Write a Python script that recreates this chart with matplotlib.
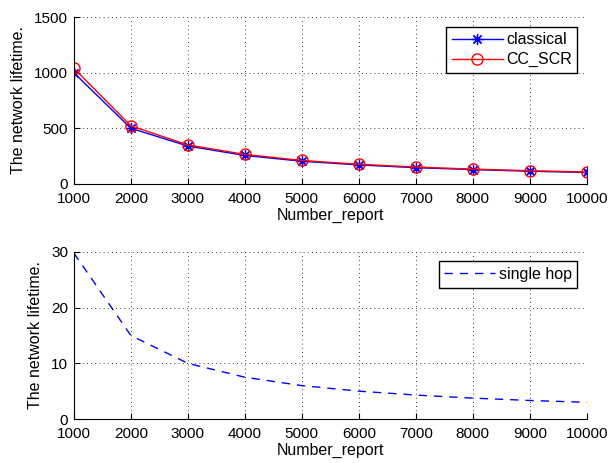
import matplotlib.pyplot as plt
import numpy as np

plt.rcParams['font.family'] = ['Liberation Sans', 'DejaVu Sans']
plt.rcParams['font.size'] = 11

# data
number_report = [1000, 2000, 3000, 4000, 5000, 6000, 7000, 8000, 9000, 10000]
classical = [1000, 500, 340, 255, 203, 170, 145, 128, 113, 102]
cc_scr = [1040, 522, 350, 265, 210, 176, 151, 132, 118, 106]
single_hop = [29.8, 15.0, 10.0, 7.5, 6.0, 5.0, 4.3, 3.75, 3.33, 3.0]

x_ticks = [1000, 2000, 3000, 4000, 5000, 6000, 7000, 8000, 9000, 10000]

fig = plt.figure(figsize=(6.1, 4.63), dpi=100)
ax1 = fig.add_axes([0.121, 0.603, 0.841, 0.360])
ax2 = fig.add_axes([0.121, 0.095, 0.841, 0.361])

ax1.plot(number_report, classical, color='blue', marker=(8, 2, 0), markersize=8,
         markeredgewidth=0.9, linewidth=1, label='classical')
ax1.plot(number_report, cc_scr, color='red', marker='o', markersize=8,
         markerfacecolor='none', linewidth=1, label='CC_SCR')
ax1.set_ylim(0, 1500)
ax1.set_yticks([0, 500, 1000, 1500])

ax2.plot(number_report, single_hop, color='blue', linestyle=(0, (6, 5)),
         linewidth=1, label='single hop')
ax2.set_ylim(0, 30)
ax2.set_yticks([0, 10, 20, 30])

for ax in (ax1, ax2):
    ax.set_xlim(1000, 10000)
    ax.set_xticks(x_ticks)
    ax.set_xlabel('Number_report', labelpad=1, fontsize=11.5)
    ax.set_ylabel('The network lifetime.', labelpad=6, fontsize=11.5)
    ax.spines['top'].set_visible(False)
    ax.spines['right'].set_visible(False)
    ax.tick_params(direction='in', length=4, width=0.8, labelsize=11)
    ax.tick_params(axis='x', pad=6)
    ax.tick_params(axis='y', pad=4)
    ax.grid(True, linestyle=(0, (1, 4)), color='black', linewidth=0.6)
    leg = ax.legend(loc='upper right', fancybox=False, framealpha=1,
                    edgecolor='black', handlelength=3.2, borderpad=0.35,
                    labelspacing=0.3, handletextpad=0.2, borderaxespad=0.6,
                    fontsize=11.5)
    leg.get_frame().set_linewidth(1.0)

fig.savefig('out.png', dpi=100)
